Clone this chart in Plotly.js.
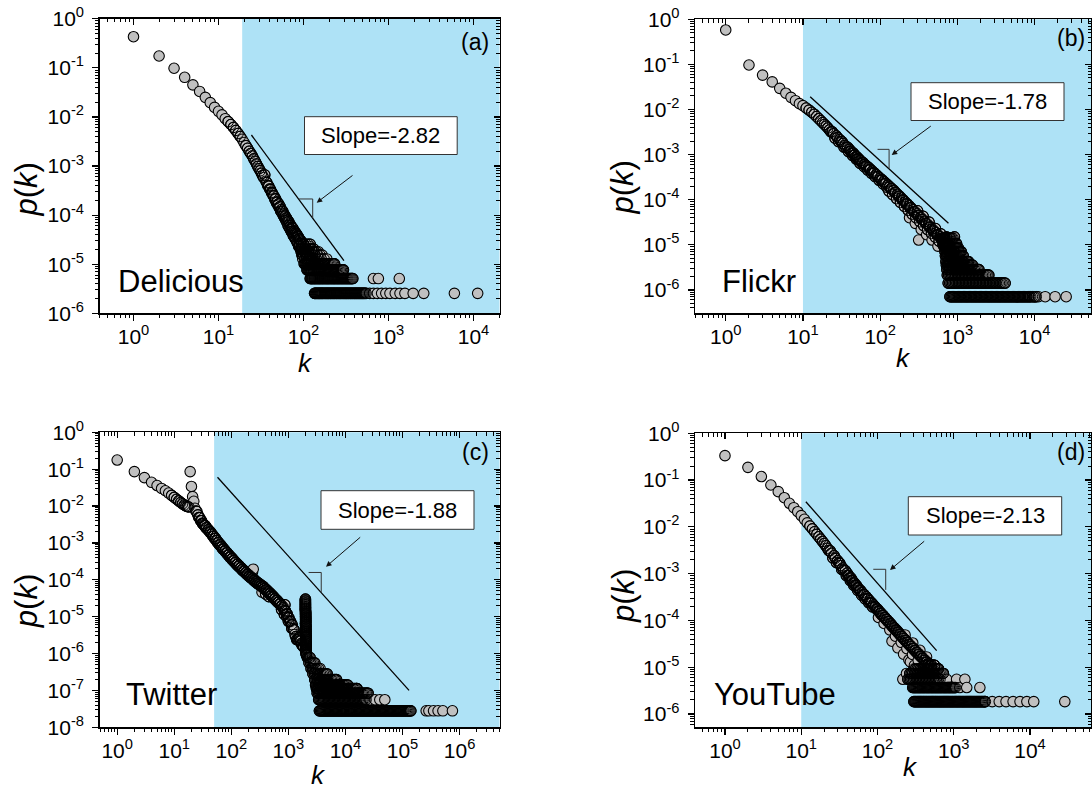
<!DOCTYPE html>
<html><head><meta charset="utf-8">
<script src="https://cdn.plot.ly/plotly-3.0.1.min.js"></script>
<style>html,body{margin:0;padding:0;background:#fff}#chart{width:1092px;height:789px}</style>
</head><body><div id="chart"></div>
<script>
const W = 1092, H = 789;
const FONT = 'Arial, "Liberation Sans", Helvetica, sans-serif';

// ================= DATA (k, p(k)) =================
// ---- (a) Delicious ----
const delHead = [[1,0.43],[2,0.174],[3,0.098],[4,0.064],[5,0.045],[6,0.033],[7,0.025],[8,0.0195],[9,0.0156],[10,0.013],[11,0.011],[12,0.0092],[13,0.008],[14,0.007],[15,0.0061],[16,0.0053],[17,0.0046],[18,0.004],[19,0.0035],[20,0.003],[21,0.0026],[22,0.0023],[23,0.002],[24,0.0018],[25,0.0016],[26,0.0014],[27,0.00125],[28,0.0011],[29,0.00098],[30,0.00088]];
const delBand = [[31,8.0e-4],[32,7.1e-4],[33,6.4e-4],[34,5.8e-4],[35,6.6e-4],[36,4.9e-4],[37,4.6e-4],[38,4.0e-4],[39,3.9e-4],[40,3.4e-4],[41,3.3e-4],[42,2.9e-4],[43,2.8e-4],[44,2.5e-4],[45,2.45e-4],[46,2.1e-4],[47,2.15e-4],[48,1.8e-4],[49,1.85e-4],[50,1.6e-4],[51,1.7e-4],[52,1.4e-4],[53,1.5e-4],[54,1.2e-4],[55,1.3e-4],[56,1.1e-4],[57,1.2e-4],[58,9.7e-5],[59,1.05e-4],[60,8.7e-5],[61,9.5e-5],[62,7.9e-5],[63,8.7e-5],[64,7.1e-5],[65,7.9e-5],[66,6.1e-5],[67,7.4e-5],[68,5.6e-5],[69,6.6e-5],[70,5.1e-5],[71,6.1e-5],[72,4.6e-5],[73,5.6e-5],[74,4.3e-5],[75,5.4e-5],[76,3.8e-5],[77,4.8e-5],[78,3.6e-5],[79,4.6e-5],[80,3.3e-5],[81,4.3e-5],[82,3.1e-5],[83,4.1e-5],[84,2.8e-5],[85,3.8e-5],[86,2.6e-5],[87,3.6e-5],[88,2.3e-5],[89,3.3e-5],[90,2.3e-5],[92,3.1e-5],[94,2.0e-5],[96,2.8e-5],[98,1.5e-5],[100,2.6e-5],[102,1.8e-5],[105,2.3e-5],[108,1.5e-5],[110,2.0e-5],[114,1.8e-5],[118,2.3e-5],[125,2.0e-5],[130,1.8e-5]];
const delLevels = [2.55e-6, 5.1e-6, 7.65e-6, 1.02e-5, 1.28e-5, 1.53e-5, 1.79e-5, 2.04e-5, 2.55e-5];
const delRowK = [
  [135,142,150,158,166,175,185,195,206,217,229,242,255,269,284,300,316,333,352,371,392,413,436,460,486,513,545,600,665,740,830,930,1040,1200,1365,1560,1950,2600,5960,11200],
  [120,126,133,140,148,156,165,174,184,194,205,217,229,242,256,271,287,304,322,341,361,380,665,760,1340],
  [110,116,122,129,136,144,152,161,170,180,191,203,216,230,245,262,280,295],
  [102,108,114,121,128,136,145,155,166,178,191,205,220,232],
  [98,104,110,117,124,132,141,151,162,175,188],
  [96,101,107,113,120,128,137,147,157,166],
  [94,100,106,112,119,127,135,143,150],
  [92,97,103,109,116,124,132],
  [90,95,101,107,114,120]
];
const delRowK2 = [
  [138,146,154,162,170,180,190,200,211,223,235,248,262,276,292,308,324,342,361,381,402,424,448,473,499,528],
  [123,129,136,144,152,160,169,179,189,199,211,223,235,249,263,279,295,313,331,351,370],
  [113,119,125,132,140,148,156,165,175,185,197,209,223,237,253,271,288],
  [105,111,117,124,132,140,150,160,172,184,198,212,226]
];
const delSlope = [[24.4,4.28e-3],[299,1.18e-5]];
const delBracket = [[88,2.13e-4],[128.3,2.13e-4],[128.3,8.7e-5]];

// ---- (b) Flickr ----
const flkHead = [[1,0.58],[2,0.097],[3,0.058],[4,0.041],[5,0.0295],[6,0.023],[7,0.0186],[8,0.0157],[9,0.0135],[10,0.0122],[11,0.0108],[12,0.0097],[13,0.0087],[14,0.00787],[15,0.0070],[16,0.00627],[17,0.00566],[18,0.00513],[19,0.00467],[20,0.00428]];
const flkBand = [[21,3.9e-3],[22,3.53e-3],[24,3.2e-3],[25,2.9e-3],[27,2.62e-3],[28,2.38e-3],[30,2.15e-3],[32,1.95e-3],[33,1.77e-3],[35,1.6e-3],[38,1.45e-3],[40,1.31e-3],[42,1.19e-3],[45,1.08e-3],[47,9.8e-4],[50,8.9e-4],[53,8.05e-4],[56,7.3e-4],[60,6.7e-4],[63,6.1e-4],[67,5.6e-4],[71,5.15e-4],[75,4.7e-4],[79,4.3e-4],[84,3.95e-4],[89,3.6e-4],[94,3.3e-4],[100,3.0e-4],[106,2.77e-4],[112,2.53e-4],[119,2.31e-4],[126,2.11e-4],[133,1.93e-4],[141,1.77e-4],[150,1.61e-4],[158,1.46e-4],[168,1.32e-4],[178,1.2e-4],[188,1.09e-4],[200,9.85e-5],[211,8.9e-5],[224,8.1e-5],[237,7.35e-5],[251,6.65e-5],[266,6.0e-5],[282,5.45e-5],[299,4.95e-5],[316,4.5e-5],[335,4.07e-5],[355,3.68e-5],[376,3.33e-5],[398,3.0e-5],[422,2.74e-5],[447,2.48e-5],[473,2.25e-5],[501,2.04e-5],[531,1.85e-5],[562,1.67e-5],[596,1.52e-5],[631,1.38e-5]];
const flkExtra = [[26,2.32e-3],[29,1.93e-3],[34,1.46e-3],[39,1.16e-3],[44,9.5e-4],[49,7.9e-4],[55,6.4e-4],[62,5.4e-4],[69,4.55e-4],[77,3.86e-4],[86,3.26e-4],[97,2.7e-4],[109,2.25e-4],[122,1.89e-4],
  [130,1.55e-4],[145,1.29e-4],[163,1.06e-4],[183,8.7e-5],[206,7.1e-5],[231,5.8e-5],[259,4.8e-5],[290,4.0e-5],[326,3.25e-5],[366,2.65e-5],[411,2.17e-5],[461,1.79e-5],[517,1.48e-5],[580,1.21e-5],[650,1.0e-5],
  [240,4.0e-5],[285,3.0e-5],[340,2.2e-5],[400,1.68e-5],[470,1.28e-5],[560,9.4e-6],[315,1.28e-5],
  [305,5.7e-5],[360,4.3e-5],[430,3.2e-5],[520,2.3e-5],[610,1.75e-5],[720,1.5e-5],[800,1.42e-5],[915,1.5e-5]];
const flkFill = [[23,3.2e-3],[31,1.95e-3],[36,1.45e-3],[41,1.19e-3],[43,1.08e-3],[46,9.8e-4],[48,8.9e-4],[51,8.05e-4],[54,7.3e-4],[58,6.6e-4],[65,5.55e-4],[73,4.65e-4],[81,3.9e-4],[92,3.27e-4],[103,2.72e-4],[115,2.3e-4],[137,1.75e-4],[154,1.45e-4],[173,1.19e-4],[194,9.8e-5],[218,8.0e-5],[244,6.6e-5],[274,5.4e-5],[307,4.45e-5],[345,3.65e-5],[387,3.0e-5],[435,2.46e-5],[487,2.03e-5],[546,1.67e-5],[613,1.37e-5]];
const flkLevels = [7.1e-7, 1.42e-6, 2.13e-6, 2.84e-6, 3.55e-6, 4.26e-6, 5.7e-6, 7.1e-6, 8.5e-6, 1.07e-5, 1.42e-5];
const flkRowK = [
  [800,860,925,995,1070,1150,1240,1330,1430,1540,1660,1780,1920,2060,2220,2390,2570,2760,2970,3200,3440,3700,3980,4280,4600,4950,5330,5730,6170,6640,7150,7700,8300,8900,9800,10500,11200,13700,18400,25600],
  [760,830,905,985,1070,1165,1270,1380,1500,1630,1775,1930,2100,2290,2490,2700,2950,3200,3500,3800,4150],
  [740,805,875,950,1035,1125,1225,1330,1445,1570,1710,1860,2020,2200,2400,2550],
  [730,790,860,935,1015,1100,1195,1300,1410,1530,1660,1800,1900],
  [720,780,845,915,990,1070,1160,1255,1360,1470,1570],
  [710,765,825,890,960,1035,1115,1200,1295,1395],
  [700,755,815,880,950,1025,1105,1190],
  [690,740,795,855,920,990,1060,1120],
  [680,725,775,830,890,955,1030],
  [660,700,745,795,850,910,975],
  [640,680,720,770,820,880]
];
const flkRowK2 = [
  [830,892,960,1032,1110,1195,1285,1380,1485,1600,1720,1850,1990,2140,2305,2480,2665,2865,3085,3320,3570,3840,4130,4440,4775,5140,5530,5950,6400,6895,7425,8000,8600,9350,10100],
  [795,867,945,1027,1117,1217,1325,1440,1565,1702,1852,2015,2195,2390,2595,2825,3075,3350,3650,3975],
  [772,840,912,992,1080,1175,1277,1387,1507,1640,1785,1940,2110,2300,2475],
  [760,825,897,975,1057,1147,1247,1355,1470,1595,1730,1850],
  [750,812,880,952,1030,1115,1207,1307,1415,1520],
  [737,795,857,925,997,1075,1157,1247,1345],
  [727,785,847,915,987,1065,1147],
  [715,767,825,887,955,1025,1090],
  [702,750,802,860,922,992],
  [680,722,770,822,880,942],
  [660,700,745,795,850]
];
const flkSlope = [[12.4,0.0192],[766,3.0e-5]];
const flkBracket = [[92.5,1.31e-3],[130.4,1.31e-3],[130.4,4.97e-4]];

// ---- (c) Twitter ----
const twHead = [[1,0.177],[2,0.086],[3,0.059],[4,0.044],[5,0.036],[6,0.030],[7,0.026],[8,0.0225],[9,0.0195],[10,0.0172],[11,0.0153],[12,0.0138],[13,0.0125],[14,0.0115],[15,0.0107],[16,0.0101],[17,0.0097],[18,0.0095],[19,0.086],[20,0.034],[21,0.018],[22,0.0135]];
const twBand = [[23,8.7e-3],[25,7.1e-3],[26,5.75e-3],[28,4.8e-3],[30,4.0e-3],[32,3.35e-3],[35,2.95e-3],[37,2.59e-3],[40,2.27e-3],[43,2.0e-3],[46,1.74e-3],[49,1.52e-3],[53,1.33e-3],[56,1.16e-3],[60,1.02e-3],[65,8.9e-4],[69,7.8e-4],[74,6.9e-4],[79,6.1e-4],[85,5.4e-4],[91,4.75e-4],[98,4.2e-4],[105,3.75e-4],[112,3.33e-4],[120,2.96e-4],[129,2.65e-4],[138,2.39e-4],[148,2.15e-4],[159,1.93e-4],[170,1.75e-4],[182,1.59e-4],[195,1.44e-4],[209,1.31e-4],[224,1.19e-4],[240,1.09e-4],[257,9.9e-5],[275,9.0e-5],[295,8.3e-5],[316,7.7e-5],[339,7.1e-5],[363,6.6e-5],[389,5.9e-5],[417,5.35e-5],[447,4.8e-5],[479,4.35e-5],[513,3.9e-5],[550,3.5e-5],[589,3.1e-5],[631,2.8e-5],[676,2.5e-5],[724,2.25e-5],[776,2.0e-5],[832,1.76e-5],[891,1.43e-5],[955,1.17e-5],[1023,9.3e-6],[1096,7.4e-6],[1175,6.0e-6],[1259,4.4e-6],[1349,2.9e-6],[1445,2.35e-6],[1549,2.75e-6],[1660,2.2e-6],[1778,1.6e-6]];
const twFill = [[24,7.3e-3],[27,4.9e-3],[29,4.0e-3],[31,3.4e-3],[33,3.1e-3],[34,2.9e-3],[36,2.55e-3],[39,2.25e-3],[42,1.97e-3],[45,1.72e-3],[48,1.5e-3],[51,1.31e-3],[55,1.14e-3],[58,1.0e-3],[62,8.8e-4],[67,7.7e-4],[71,6.75e-4],[77,6.0e-4],[82,5.3e-4],[88,4.65e-4],[94,4.1e-4],[101,3.65e-4],[108,3.25e-4],[116,2.9e-4],[124,2.58e-4],[133,2.32e-4],[143,2.09e-4],[153,1.87e-4],[164,1.69e-4],[176,1.53e-4],[188,1.39e-4],[202,1.26e-4],[216,1.15e-4],[232,1.05e-4],[248,9.5e-5],[266,8.7e-5],[285,7.95e-5],[305,7.35e-5],[327,6.8e-5],[351,6.3e-5],[376,5.7e-5],[403,5.2e-5],[432,4.65e-5],[463,4.2e-5],[496,3.8e-5],[531,3.4e-5],[569,3.03e-5],[610,2.7e-5],[653,2.43e-5],[700,2.18e-5],[750,1.95e-5],[804,1.72e-5],[861,1.46e-5],[923,1.19e-5],[989,9.6e-6],[1059,7.6e-6],[1135,6.1e-6],[1217,4.7e-6],[1303,3.3e-6],[1397,2.4e-6],[1497,2.35e-6],[1604,2.25e-6],[1718,1.73e-6]];
const twExtra = [[242,1.94e-4],[235,1.6e-4],[345,4.6e-5],[400,4.1e-5],[455,3.5e-5],[760,1.55e-5],[850,1.15e-5],[870,2.1e-5],[933,1.0e-5],[1000,7.5e-6],[1150,4.8e-6],[1600,2.6e-6],[1700,1.9e-6],[1850,1.5e-6],
  [1990,3.0e-5],[1992,2.65e-5],[1994,2.35e-5],[1996,2.1e-5],[1998,1.85e-5],[2000,1.65e-5],[1991,1.47e-5],[1993,1.3e-5],[1995,1.16e-5],[1997,1.03e-5],[1999,9.2e-6],[2001,8.2e-6],[2003,7.3e-6],[1989,6.5e-6],[2002,5.8e-6],[2004,5.2e-6],[2005,4.6e-6],[2006,4.1e-6],[2007,3.65e-6],[2008,3.25e-6],[2009,2.9e-6],[2010,2.6e-6],[2012,2.3e-6],[2014,2.05e-6],[2016,1.8e-6],[2020,1.6e-6],[2024,1.42e-6],[2030,1.27e-6],[2040,1.13e-6],[2055,1.0e-6],[2075,9.0e-7],
  [1987,2.82e-5],[1988,2.5e-5],[1986,2.22e-5],[1985,1.97e-5],[1984,1.75e-5],[1983,1.56e-5],[2011,1.38e-5],[2013,1.23e-5],[2015,1.1e-5],[2017,9.7e-6],[2018,8.7e-6],[2019,7.7e-6],[2021,6.9e-6],[2022,6.1e-6],[2023,5.5e-6],[2025,4.9e-6],[2026,4.35e-6],[2027,3.9e-6],[2028,3.45e-6],[2029,3.05e-6],[2031,2.75e-6],[2032,2.45e-6],[2034,2.17e-6],[2036,1.92e-6],[2038,1.7e-6],[2042,1.5e-6],[2046,1.34e-6],[2050,1.2e-6],[2060,1.07e-6],[2068,9.5e-7]];
const twLevels = [2.8e-8, 5.6e-8, 8.4e-8, 1.12e-7, 1.4e-7, 1.96e-7, 2.8e-7, 3.92e-7, 5.6e-7, 7.8e-7];
const twRowK = [
  [3500,3840,4210,4620,5070,5560,6100,6690,7340,8050,8830,9690,10600,11700,12800,14000,15400,16900,18500,20300,22300,24500,26800,29400,32300,35400,38800,42600,46700,51300,56200,61700,67700,74200,81400,89300,98000,107000,118000,129000,140000,260000,290000,350000,420000,510000,750000],
  [3400,3760,4150,4590,5070,5600,6190,6840,7560,8350,9230,10200,11300,12500,13800,15200,16800,18600,20500,23000,27000,33000,40000,49000],
  [3200,3550,3940,4370,4850,5380,5970,6620,7350,8150,9050,10000,11100,12400,13700,15200,16900,18800,20800,23100,25000],
  [3100,3450,3840,4270,4750,5280,5870,6530,7260,8080,8990,10000,11100,12400,13800,15300,16000],
  [3000,3350,3740,4170,4650,5190,5790,6460,7200,8040,8970,10000,11000],
  [2900,3250,3640,4080,4570,5120,5730,6420,7000],
  [2700,3050,3450,3900,4400,4800],
  [2500,2800,3150,3600],
  [2300,2600,2900],
  [2150,2400]
];
const twRowK2 = [
  [3670,4020,4410,4840,5310,5830,6390,7010,7690,8440,9250,10150,11100,12250,13400,14700,16100,17650,19400,21300,23400,25600,28100,30800,33700,37000,40700,44600,48900,53700,58900,64600,70900,77800,85300,93600,102500,112500,123500,134500],
  [3580,3950,4370,4830,5330,5890,6510,7200,7950,8790,9710,10750,11900,13150,14500,16000,17700,19550,21700],
  [3370,3740,4150,4610,5110,5670,6290,6980,7750,8600,9520,10550,11750,13050,14450,16050,17850,19800,21950,24000],
  [3270,3640,4050,4510,5010,5570,6200,6890,7670,8530,9490,10550,11750,13100,14550,15650],
  [3170,3540,3950,4410,4920,5490,6120,6830,7620,8500,9480,10500],
  [3070,3440,3860,4320,4840,5420,6070,6710],
  [2870,3250,3670,4150,4600],
  [2650,2970,3370],
  [2450,2750],
  [2280]
];
const twSlope = [[57.3,0.0603],[130300,1.0e-7]];
const twBracket = [[2265,1.58e-4],[3767,1.58e-4],[3767,4.7e-5]];

// ---- (d) YouTube ----
const ytHead = [[1,0.333],[2,0.187],[3,0.119],[4,0.0786],[5,0.0566],[6,0.042],[7,0.0319],[8,0.0257],[9,0.0211],[10,0.0174],[11,0.0145],[12,0.0122],[13,0.01045],[14,0.00906],[15,0.00789],[16,0.00692],[17,0.00614],[18,0.00546],[19,0.00488],[20,0.0044]];
const ytBand = [[21,3.94e-3],[22,3.49e-3],[24,3.09e-3],[25,2.73e-3],[27,2.42e-3],[28,2.14e-3],[30,1.9e-3],[32,1.68e-3],[33,1.49e-3],[35,1.32e-3],[38,1.16e-3],[40,1.03e-3],[42,9.1e-4],[45,8.05e-4],[47,7.1e-4],[50,6.3e-4],[53,5.6e-4],[56,4.93e-4],[60,4.38e-4],[63,3.95e-4],[67,3.57e-4],[71,3.22e-4],[75,2.91e-4],[79,2.63e-4],[84,2.37e-4],[89,2.14e-4],[94,1.94e-4],[100,1.75e-4],[106,1.57e-4],[112,1.42e-4],[119,1.28e-4],[126,1.15e-4],[133,1.04e-4],[141,9.4e-5],[150,8.45e-5],[158,7.6e-5],[168,6.9e-5],[178,6.2e-5],[188,5.6e-5],[200,5.06e-5],[211,4.57e-5],[224,4.12e-5],[237,3.72e-5],[251,3.36e-5],[266,3.03e-5],[282,2.76e-5],[299,2.51e-5],[316,2.28e-5],[335,2.07e-5],[355,1.89e-5],[376,1.72e-5],[398,1.56e-5],[422,1.42e-5],[447,1.29e-5],[473,1.18e-5],[501,1.07e-5]];
const ytExtra = [[26,2.16e-3],[29,1.72e-3],[34,1.23e-3],[39,9.1e-4],[44,7.1e-4],[49,5.6e-4],[55,4.4e-4],[62,3.47e-4],[69,2.87e-4],[77,2.37e-4],[86,1.95e-4],
  [103,1.16e-4],[122,8.6e-5],[145,6.3e-5],[172,4.6e-5],[205,3.4e-5],[243,2.5e-5],[288,1.87e-5],[342,1.4e-5],[405,1.07e-5],[455,9.2e-6],
  [155,3.6e-5],[185,2.6e-5],[220,1.9e-5],[258,1.43e-5],[305,1.1e-5],
  [215,5.52e-6],[240,7.36e-6],[270,1.3e-5],
  [230,4.9e-5],[290,3.3e-5],[360,2.3e-5],[440,1.66e-5],[513,1.12e-5],[560,1.1e-5],[630,9.2e-6],[730,7.36e-6]];
const ytFill = [[23,3.12e-3],[31,1.7e-3],[36,1.18e-3],[41,9.2e-4],[43,8.1e-4],[46,7.2e-4],[48,6.35e-4],[51,5.65e-4],[54,5.0e-4],[58,4.4e-4],[65,3.57e-4],[73,2.9e-4],[81,2.37e-4],[92,1.94e-4],[97,1.75e-4],[103,1.58e-4],[109,1.42e-4],[115,1.28e-4],[123,1.15e-4],[130,1.04e-4],[137,9.4e-5],[146,8.5e-5],[154,7.6e-5],[163,6.9e-5],[173,6.2e-5],[183,5.6e-5],[194,5.05e-5],[206,4.57e-5],[218,4.12e-5],[231,3.72e-5],[244,3.36e-5],[259,3.03e-5],[274,2.75e-5],[291,2.5e-5],[308,2.27e-5],[326,2.06e-5],[345,1.88e-5],[366,1.71e-5],[387,1.56e-5],[410,1.41e-5],[435,1.29e-5],[460,1.17e-5],[487,1.07e-5]];
const ytLevels = [1.84e-6, 3.68e-6, 5.52e-6, 7.36e-6, 9.2e-6, 1.1e-5];
const ytRowK = [
  [300,320,342,365,390,417,445,475,508,542,579,619,661,706,754,805,860,919,981,1050,1120,1195,1280,1365,1460,1560,1665,1780,1900,2030,2170,2320,2480,2600,3200,3950,4850,6000,7400,9100,11200,28600],
  [290,310,332,356,381,408,437,468,501,536,574,615,658,705,755,808,865,926,990,1060,1200,1480,2200],
  [250,272,297,325,355,388,424,463,506,553,604,660,740,810,1090,1400],
  [265,290,320,350,385,425,465,510,560,615,675,730],
  [300,330,365,400,440,485,535,590,630],
  [420,460,505,555]
];
const ytRowK2 = [
  [310,331,353,377,403,431,460,491,525,560,599,640,683,730,779,832,889,950,1015,1085,1157,1237,1322,1412,1510,1612,1722,1840,1965,2100,2245,2400,2540],
  [300,321,344,368,394,422,452,484,518,555,594,636,681,730,781,836,895,958,1025],
  [261,284,311,340,371,406,443,484,529,578,632],
  [277,305,335,367,405,445,487,535,587,645,702],
  [315,347,382,420,462,510,562,610]
];
const ytSlope = [[11.5,0.0345],[597,2.26e-5]];
const ytBracket = [[88.1,1.24e-3],[128.2,1.24e-3],[128.2,4.5e-4]];

// tick exponents
const xExpA = [0,1,2,3,4], xExpB = [0,1,2,3,4], xExpC = [0,1,2,3,4,5,6], xExpD = [0,1,2,3,4];
const yExpA = [-6,-5,-4,-3,-2,-1,0], yExpB = [-6,-5,-4,-3,-2,-1,0], yExpC = [-8,-7,-6,-5,-4,-3,-2,-1,0], yExpD = [-6,-5,-4,-3,-2,-1,0];

// ================= LAYOUT / BUILD =================
function buildPoints(lists, levels, rowSets) {
  const pts = [];
  lists.forEach(a => a.forEach(q => pts.push(q)));
  rowSets.forEach(rows => rows.forEach((ks, i) => ks.forEach(k => pts.push([k, levels[i]]))));
  pts.sort((a, b) => a[0] - b[0]);
  return pts;
}

const panels = [
  { pts: buildPoints([delHead, delBand], delLevels, [delRowK, delRowK2]), slope: delSlope, bracket: delBracket, shadeFrom: 19,
    g: {L:99.5, R:499.5, T:18.7, B:313.3, xr:[-0.4,4.306], yr:[-6,0]}, xe: xExpA, ye: yExpA,
    label:'Delicious', labelPos:[116,281], letter:'(a)', letterPos:[491,42], slopeText:'Slope=-2.82',
    box:[304.5,116.7,457.2,154.5], arrow:[316.7,202.7,354,174.3], ytitle:[25.5,190], xtitle:[305.5,362.5] },
  { pts: buildPoints([flkHead, flkBand, flkExtra, flkFill], flkLevels, [flkRowK, flkRowK2]), slope: flkSlope, bracket: flkBracket, shadeFrom: 10,
    g: {L:695, R:1091, T:19.3, B:313.3, xr:[-0.398,4.73], yr:[-6.517,0]}, xe: xExpB, ye: yExpB,
    label:'Flickr', labelPos:[720,281], letter:'(b)', letterPos:[1087,38], slopeText:'Slope=-1.78',
    box:[911,82.7,1064,120.5], arrow:[891.7,155,932.3,125], ytitle:[622,187.5], xtitle:[903,357.5] },
  { pts: buildPoints([twHead, twBand, twFill, twExtra], twLevels, [twRowK, twRowK2]), slope: twSlope, bracket: twBracket, shadeFrom: 50,
    g: {L:99.5, R:499.5, T:432.3, B:727.3, xr:[-0.31,6.7], yr:[-8,0]}, xe: xExpC, ye: yExpC,
    label:'Twitter', labelPos:[123.6,694], letter:'(c)', letterPos:[491,452], slopeText:'Slope=-1.88',
    box:[321,490.7,474,529.3], arrow:[326,566.7,361.7,536], ytitle:[26.5,601.7], xtitle:[318,774.5] },
  { pts: buildPoints([ytHead, ytBand, ytExtra, ytFill], ytLevels, [ytRowK, ytRowK2]), slope: ytSlope, bracket: ytBracket, shadeFrom: 10,
    g: {L:695, R:1091, T:433.3, B:727.3, xr:[-0.393,4.8], yr:[-6.284,0]}, xe: xExpD, ye: yExpD,
    label:'YouTube', labelPos:[712.4,694], letter:'(d)', letterPos:[1087,452], slopeText:'Slope=-2.13',
    box:[908.3,496.7,1061.7,535], arrow:[890,570,925.7,540], ytitle:[623,596], xtitle:[910,766.5] }
];

// points whose marker sits in a crowded spot get their outline re-drawn on top (dense clouds look black, as in the figure)
function crowded(pts, g) {
  const sx = (g.R - g.L) / (g.xr[1] - g.xr[0]), sy = (g.B - g.T) / (g.yr[1] - g.yr[0]);
  const P = pts.map(q => [Math.log10(q[0]) * sx, Math.log10(q[1]) * sy]);
  return pts.filter((q, i) => {
    let n = 0;
    for (let j = 0; j < P.length; j++) {
      if (j !== i && Math.abs(P[j][0] - P[i][0]) < 3.2 && Math.abs(P[j][1] - P[i][1]) < 3.2) { n++; if (n >= 2) return true; }
    }
    return false;
  });
}

function minorVals(r) {
  const v = [];
  for (let e = Math.floor(r[0]); e < Math.ceil(r[1]); e++) {
    for (let m = 2; m <= 9; m++) {
      const val = m * Math.pow(10, e), lv = Math.log10(val);
      if (lv > r[0] && lv < r[1]) v.push(val);
    }
  }
  return v;
}
const px = X => X / W, py = Y => 1 - Y / H;
const tickFont = { family: FONT, size: 21, color: '#000' };

const traces = [], shapes = [], annotations = [];
const layout = {
  width: W, height: H, margin: { l: 0, r: 0, t: 0, b: 0 },
  paper_bgcolor: '#fff', plot_bgcolor: '#fff', showlegend: false,
  font: { family: FONT, color: '#000' }
};

panels.forEach((P, idx) => {
  const i = idx + 1, io = idx + 5;
  const xId = i === 1 ? 'x' : 'x' + i, yId = i === 1 ? 'y' : 'y' + i;
  const xo = 'x' + io, yo = 'y' + io;
  const g = P.g;
  const common = { type: 'log', autorange: false, showline: true, linecolor: '#000', linewidth: 1.3,
    tickcolor: '#000', tickwidth: 1.2, ticklen: 6, showgrid: false, zeroline: false, fixedrange: true, tickmode: 'array' };
  const xv = P.xe.map(e => Math.pow(10, e)), xt = P.xe.map(e => '10<sup>' + e + '</sup>');
  const yv = P.ye.map(e => Math.pow(10, e)), yt = P.ye.map(e => '10<sup>' + e + '</sup>');
  layout['xaxis' + (i === 1 ? '' : i)] = Object.assign({}, common, {
    range: g.xr, domain: [px(g.L), px(g.R)], anchor: yId, ticks: 'outside',
    tickvals: xv, ticktext: xt, tickfont: tickFont, ticklabelstandoff: -2,
    minor: { ticks: 'outside', ticklen: 3.5, tickwidth: 1, tickcolor: '#000', tickmode: 'array', tickvals: minorVals(g.xr), showgrid: false }
  });
  layout['yaxis' + (i === 1 ? '' : i)] = Object.assign({}, common, {
    range: g.yr, domain: [py(g.B), py(g.T)], anchor: xId, ticks: 'outside',
    tickvals: yv, ticktext: yt, tickfont: tickFont, ticklabelstandoff: 4,
    minor: { ticks: 'outside', ticklen: 3.5, tickwidth: 1, tickcolor: '#000', tickmode: 'array', tickvals: minorVals(g.yr), showgrid: false }
  });
  layout['xaxis' + io] = Object.assign({}, common, {
    range: g.xr, overlaying: xId, side: 'top', anchor: yId, ticks: 'inside', showticklabels: false,
    tickvals: xv, minor: { ticks: 'inside', ticklen: 3.5, tickwidth: 1, tickcolor: '#000', tickmode: 'array', tickvals: minorVals(g.xr) }
  });
  layout['yaxis' + io] = Object.assign({}, common, {
    range: g.yr, overlaying: yId, side: 'right', anchor: xId, ticks: 'inside', showticklabels: false,
    tickvals: yv, minor: { ticks: 'inside', ticklen: 3.5, tickwidth: 1, tickcolor: '#000', tickmode: 'array', tickvals: minorVals(g.yr) }
  });

  shapes.push({ type: 'rect', xref: xId + ' domain', yref: yId + ' domain',
    x0: (Math.log10(P.shadeFrom) - g.xr[0]) / (g.xr[1] - g.xr[0]), x1: 1, y0: 0, y1: 1,
    fillcolor: '#aee2f6', line: { width: 0 }, layer: 'below' });

  traces.push({ type: 'scatter', mode: 'markers', x: P.pts.map(q => q[0]), y: P.pts.map(q => q[1]), xaxis: xId, yaxis: yId,
    marker: { symbol: 'circle', size: 10.5, color: '#c0c0c0', line: { color: '#000', width: 1.1 } }, hoverinfo: 'x+y' });
  const dense = crowded(P.pts, g);
  traces.push({ type: 'scatter', mode: 'markers', x: dense.map(q => q[0]), y: dense.map(q => q[1]), xaxis: xId, yaxis: yId,
    marker: { symbol: 'circle-open', size: 10.5, color: '#000', line: { width: 1 } }, hoverinfo: 'skip' });
  traces.push({ type: 'scatter', mode: 'lines', x: P.slope.map(q => q[0]), y: P.slope.map(q => q[1]), xaxis: xId, yaxis: yId,
    line: { color: '#000', width: 1.3 }, hoverinfo: 'skip' });
  traces.push({ type: 'scatter', mode: 'lines', x: P.bracket.map(q => q[0]), y: P.bracket.map(q => q[1]), xaxis: xId, yaxis: yId,
    line: { color: '#333', width: 1 }, hoverinfo: 'skip' });
  traces.push({ type: 'scatter', mode: 'markers', x: [], y: [], xaxis: xo, yaxis: yo, hoverinfo: 'skip' });

  shapes.push({ type: 'rect', xref: 'paper', yref: 'paper', x0: px(P.box[0]), x1: px(P.box[2]), y0: py(P.box[3]), y1: py(P.box[1]),
    fillcolor: '#fff', line: { color: '#333', width: 1 }, layer: 'above' });
  annotations.push({ xref: 'paper', yref: 'paper', x: px((P.box[0] + P.box[2]) / 2), y: py((P.box[1] + P.box[3]) / 2),
    text: P.slopeText, showarrow: false, xanchor: 'center', yanchor: 'middle', font: { family: FONT, size: 22, color: '#000' } });
  annotations.push({ xref: 'paper', yref: 'paper', x: px(P.arrow[0]), y: py(P.arrow[1]), axref: 'pixel', ayref: 'pixel',
    ax: P.arrow[2] - P.arrow[0], ay: P.arrow[3] - P.arrow[1], text: '', showarrow: true,
    arrowhead: 2, arrowsize: 1.1, arrowwidth: 1, arrowcolor: '#111', standoff: 0 });
  annotations.push({ xref: 'paper', yref: 'paper', x: px(P.labelPos[0]), y: py(P.labelPos[1]), text: P.label, showarrow: false,
    xanchor: 'left', yanchor: 'middle', font: { family: FONT, size: 31, color: '#000' } });
  annotations.push({ xref: 'paper', yref: 'paper', x: px(P.letterPos[0]), y: py(P.letterPos[1]), text: P.letter, showarrow: false,
    xanchor: 'right', yanchor: 'middle', font: { family: FONT, size: 23, color: '#000' } });
  annotations.push({ xref: 'paper', yref: 'paper', x: px(P.ytitle[0]), y: py(P.ytitle[1]), text: '<i>p</i>(<i>k</i>)', textangle: -90,
    showarrow: false, xanchor: 'center', yanchor: 'middle', font: { family: FONT, size: 31, color: '#000' } });
  annotations.push({ xref: 'paper', yref: 'paper', x: px(P.xtitle[0]), y: py(P.xtitle[1]), text: '<i>k</i>',
    showarrow: false, xanchor: 'center', yanchor: 'middle', font: { family: FONT, size: 26, color: '#000' } });
});

layout.shapes = shapes;
layout.annotations = annotations;
Plotly.newPlot('chart', traces, layout, { staticPlot: true, displayModeBar: false });
</script></body></html>
